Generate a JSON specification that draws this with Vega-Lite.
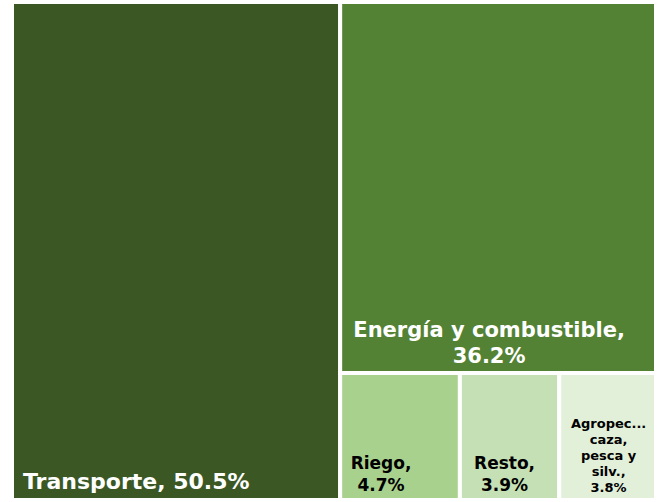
{
  "$schema": "https://vega.github.io/schema/vega-lite/v6.json",
  "width": 644,
  "height": 498,
  "autosize": {"type": "none"},
  "padding": {"left": 12, "top": 2, "right": 6, "bottom": 2},
  "background": "white",
  "config": {"view": {"stroke": null}},
  "data": {
    "values": [
      {"nombre": "Transporte", "pct": 50.5, "bloque": "izq"},
      {"nombre": "Energía y combustible", "pct": 36.2, "bloque": "sup"},
      {"nombre": "Riego", "pct": 4.7, "bloque": "inf"},
      {"nombre": "Resto", "pct": 3.9, "bloque": "inf"},
      {"nombre": "Agropec...\ncaza,\npesca y\nsilv.", "pct": 3.8, "bloque": "inf"}
    ]
  },
  "transform": [
    {"joinaggregate": [{"op": "sum", "field": "pct", "as": "total"}]},
    {"calculate": "datum.bloque == 'izq' ? datum.pct : 0", "as": "pIzq"},
    {"calculate": "datum.bloque == 'sup' ? datum.pct : 0", "as": "pSup"},
    {"joinaggregate": [{"op": "sum", "field": "pIzq", "as": "sIzq"}, {"op": "sum", "field": "pSup", "as": "sSup"}]},
    {"joinaggregate": [{"op": "sum", "field": "pct", "as": "sBloque"}], "groupby": ["bloque"]},
    {"window": [{"op": "sum", "field": "pct", "as": "acum"}], "groupby": ["bloque"], "sort": [{"field": "pct", "order": "descending"}]},
    {"calculate": "datum.sIzq / datum.total", "as": "xc"},
    {"calculate": "datum.sSup / (datum.total - datum.sIzq)", "as": "yc"},
    {"calculate": "datum.bloque == 'izq' ? 0 : datum.bloque == 'sup' ? datum.xc : datum.xc + (1 - datum.xc) * (datum.acum - datum.pct) / datum.sBloque", "as": "x0"},
    {"calculate": "datum.bloque == 'izq' ? datum.xc : datum.bloque == 'sup' ? 1 : datum.xc + (1 - datum.xc) * datum.acum / datum.sBloque", "as": "x1"},
    {"calculate": "datum.bloque == 'inf' ? datum.yc : 0", "as": "y0"},
    {"calculate": "datum.bloque == 'sup' ? datum.yc : 1", "as": "y1"},
    {"calculate": "(datum.x0 + datum.x1) / 2", "as": "xm"},
    {"calculate": "datum.bloque == 'izq' ? datum.nombre + ', ' + format(datum.pct, '.1f') + '%' : datum.nombre + ',\\n' + format(datum.pct, '.1f') + '%'", "as": "etiqueta"}
  ],
  "layer": [
    {
      "mark": {"type": "rect", "stroke": "white", "strokeWidth": 4},
      "encoding": {
        "x": {"field": "x0", "type": "quantitative", "scale": {"domain": [0, 1], "nice": false, "zero": false}, "axis": null},
        "x2": {"field": "x1"},
        "y": {"field": "y0", "type": "quantitative", "scale": {"domain": [0, 1], "nice": false, "zero": false, "reverse": true}, "axis": null},
        "y2": {"field": "y1"},
        "color": {
          "field": "pct",
          "type": "ordinal",
          "scale": {"domain": [50.5, 36.2, 4.7, 3.9, 3.8], "range": ["#3A5724", "#548235", "#A9D18E", "#C5E0B4", "#E2F0D9"]},
          "legend": null
        }
      }
    },
    {
      "transform": [{"filter": "datum.bloque == 'izq'"}],
      "mark": {"type": "text", "align": "left", "baseline": "bottom", "dx": 11, "dy": -6, "font": "DejaVu Sans", "fontWeight": "bold", "fontSize": 22, "color": "white"},
      "encoding": {
        "x": {"field": "x0", "type": "quantitative"},
        "y": {"field": "y1", "type": "quantitative"},
        "text": {"field": "etiqueta"}
      }
    },
    {
      "transform": [{"filter": "datum.bloque == 'sup'"}],
      "mark": {"type": "text", "align": "center", "baseline": "bottom", "lineBreak": "\n", "lineHeight": 26, "dx": -9, "dy": -32, "font": "DejaVu Sans", "fontWeight": "bold", "fontSize": 21, "color": "white"},
      "encoding": {
        "x": {"field": "xm", "type": "quantitative"},
        "y": {"field": "y1", "type": "quantitative"},
        "text": {"field": "etiqueta"}
      }
    },
    {
      "transform": [{"filter": "datum.nombre == 'Riego'"}],
      "mark": {"type": "text", "align": "center", "baseline": "bottom", "lineBreak": "\n", "lineHeight": 22, "dx": -19, "dy": -27, "font": "DejaVu Sans", "fontWeight": "bold", "fontSize": 17, "color": "black"},
      "encoding": {
        "x": {"field": "xm", "type": "quantitative"},
        "y": {"field": "y1", "type": "quantitative"},
        "text": {"field": "etiqueta"}
      }
    },
    {
      "transform": [{"filter": "datum.nombre == 'Resto'"}],
      "mark": {"type": "text", "align": "center", "baseline": "bottom", "lineBreak": "\n", "lineHeight": 22, "dx": -5, "dy": -27, "font": "DejaVu Sans", "fontWeight": "bold", "fontSize": 17, "color": "black"},
      "encoding": {
        "x": {"field": "xm", "type": "quantitative"},
        "y": {"field": "y1", "type": "quantitative"},
        "text": {"field": "etiqueta"}
      }
    },
    {
      "transform": [{"filter": "datum.pct == 3.8"}],
      "mark": {"type": "text", "align": "center", "baseline": "bottom", "lineBreak": "\n", "lineHeight": 16, "dx": 1, "dy": -69, "font": "DejaVu Sans", "fontWeight": "bold", "fontSize": 13, "color": "black"},
      "encoding": {
        "x": {"field": "xm", "type": "quantitative"},
        "y": {"field": "y1", "type": "quantitative"},
        "text": {"field": "etiqueta"}
      }
    }
  ]
}
